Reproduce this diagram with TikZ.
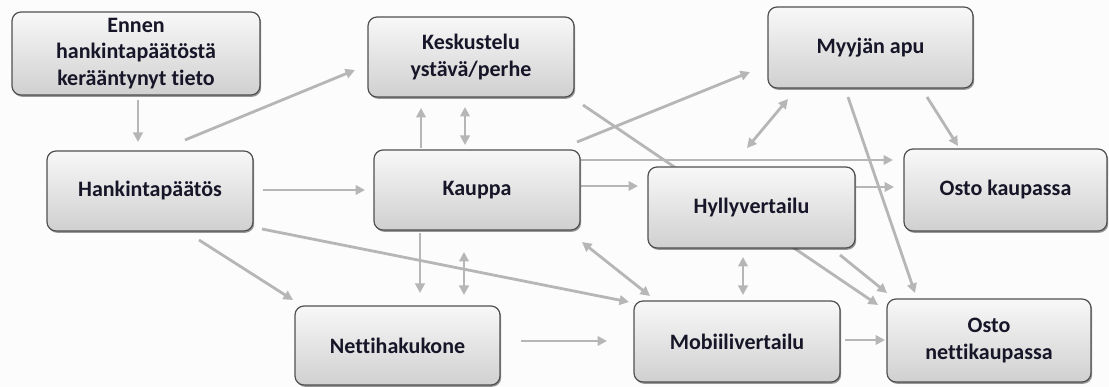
\documentclass[tikz,border=0pt]{standalone}
\usepackage{fontspec}
\setmainfont{Carlito}[Ligatures={NoCommon}]
\usetikzlibrary{arrows.meta,shadows}
\definecolor{arrowgray}{RGB}{182,182,182}
\definecolor{boxborder}{RGB}{80,80,80}
\definecolor{txt}{RGB}{22,22,40}
\definecolor{bgc}{RGB}{251,252,251}
\definecolor{boxtop}{RGB}{248,248,248}
\definecolor{boxbot}{RGB}{208,208,208}
\pgfdeclarelayer{bg}
\pgfdeclarelayer{arrowlayer}
\pgfsetlayers{bg,arrowlayer,main}
\begin{document}
\begin{tikzpicture}[x=1pt,y=-1pt,
  box/.style={rounded corners=9pt, draw=boxborder, line width=1.2pt,
    top color=boxtop, bottom color=boxbot, inner sep=0pt, align=center,
    text=txt, font=\fontsize{22}{26.5}\selectfont\bfseries,
    drop shadow={shadow xshift=1.2pt, shadow yshift=-1.8pt, opacity=0.4, fill=black}},
  tip/.tip={Triangle[length=9.5pt,width=9.5pt]},
  arr/.style={draw=arrowgray, line width=2.8pt, -tip},
  darr/.style={draw=arrowgray, line width=2.8pt, tip-tip}]
\useasboundingbox (0,0) rectangle (1109,387);
\begin{pgfonlayer}{bg}
\fill[bgc] (0,0) rectangle (1109,387);
\end{pgfonlayer}

\node[box, minimum width=248pt, minimum height=83pt] (ennen) at (136,53.5) {Ennen\\hankintapäätöstä\\kerääntynyt tieto};
\node[box, minimum width=206pt, minimum height=80pt] (hank) at (150,191) {Hankintapäätös};
\node[box, minimum width=206pt, minimum height=80pt] (kesk) at (471,57) {Keskustelu\\ystävä/perhe};
\node[box, minimum width=206pt, minimum height=80pt] (kaup) at (477,190) {Kauppa};
\node[box, minimum width=205pt, minimum height=81pt] (myyj) at (870.5,47.5) {Myyjän apu};
\node[box, minimum width=203pt, minimum height=82pt] (oka) at (1005.5,190) {Osto kaupassa};
\node[box, minimum width=207pt, minimum height=81pt] (hyll) at (751.5,207.5) {Hyllyvertailu};
\node[box, minimum width=205pt, minimum height=79pt] (netti) at (397.5,345.5) {Nettihakukone};
\node[box, minimum width=206pt, minimum height=81pt] (mobi) at (737,341.5) {Mobiilivertailu};
\node[box, minimum width=204pt, minimum height=83pt] (onk) at (989,340.5) {Osto\\nettikaupassa};

\begin{pgfonlayer}{arrowlayer}
\draw[arr] ([shift={(2,46.5)}]ennen.center) -- ([shift={(-12,-49)}]hank.center);
\draw[arr] ([shift={(35,-51)}]hank.center) -- ([shift={(-116,13)}]kesk.center);
\draw[arr] ([shift={(113,-1)}]hank.center) -- ([shift={(-112,0)}]kaup.center);
\draw[arr] ([shift={(112,38)}]hank.center) -- ([shift={(-108,-39.5)}]mobi.center);
\draw[arr] ([shift={(49,49)}]hank.center) -- ([shift={(-104.5,-45.5)}]netti.center);
\draw[arr] ([shift={(-56,-42)}]kaup.center) -- ([shift={(-50,51)}]kesk.center);
\draw[darr] ([shift={(-6,50)}]kesk.center) -- ([shift={(-12,-45)}]kaup.center);
\draw[arr] ([shift={(-57,43)}]kaup.center) -- ([shift={(22.5,-52.5)}]netti.center);
\draw[darr] ([shift={(-13,62)}]kaup.center) -- ([shift={(66.5,-50.5)}]netti.center);
\draw[arr] ([shift={(112,48)}]kesk.center) -- ([shift={(-111,-35.5)}]onk.center);
\draw[arr] ([shift={(100,-48)}]kaup.center) -- ([shift={(-120.5,24.5)}]myyj.center);
\draw[arr] ([shift={(104,-30)}]kaup.center) -- ([shift={(-112.5,-30)}]oka.center);
\draw[arr] ([shift={(104,-4)}]kaup.center) -- ([shift={(-113.5,-21.5)}]hyll.center);
\draw[arr] ([shift={(104.5,-20.5)}]hyll.center) -- ([shift={(-111.5,-3)}]oka.center);
\draw[darr] ([shift={(-82.5,51.5)}]myyj.center) -- ([shift={(-4.5,-59.5)}]hyll.center);
\draw[arr] ([shift={(56.5,49.5)}]myyj.center) -- ([shift={(-47.5,-44)}]oka.center);
\draw[arr] ([shift={(-22.5,49.5)}]myyj.center) -- ([shift={(-74,-47.5)}]onk.center);
\draw[darr] ([shift={(105,52)}]kaup.center) -- ([shift={(-87,-45.5)}]mobi.center);
\draw[darr] ([shift={(-8.5,49.5)}]hyll.center) -- ([shift={(6,-46.5)}]mobi.center);
\draw[arr] ([shift={(88.5,47.5)}]hyll.center) -- ([shift={(-102,-47.5)}]onk.center);
\draw[arr] ([shift={(123.5,-4.5)}]netti.center) -- ([shift={(-130,-0.5)}]mobi.center);
\draw[arr] ([shift={(108,-1.5)}]mobi.center) -- ([shift={(-104,-0.5)}]onk.center);
\end{pgfonlayer}
\end{tikzpicture}
\end{document}
